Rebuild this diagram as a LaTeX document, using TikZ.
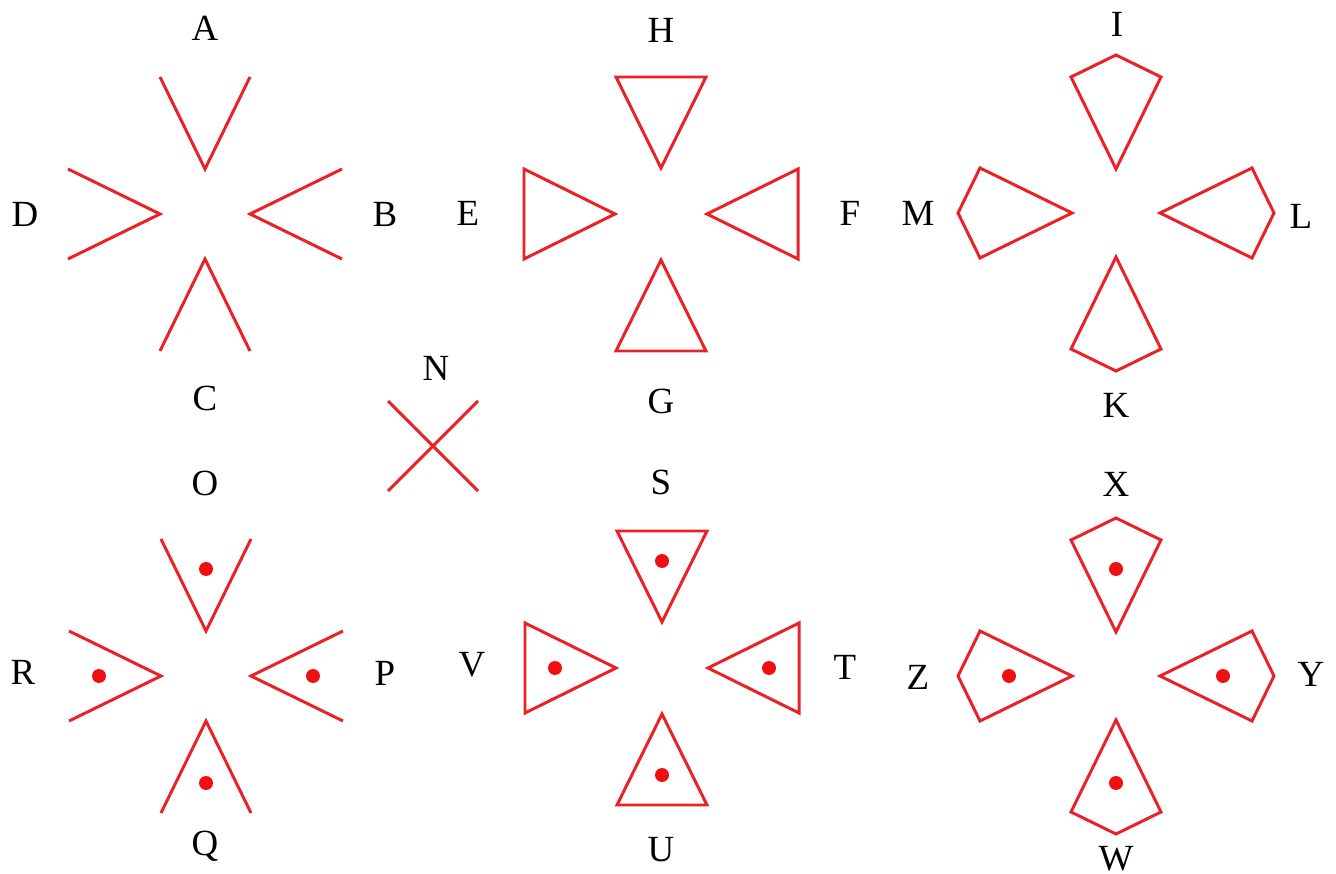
\documentclass[tikz,border=0pt]{standalone}
\usepackage{fontspec}
\setmainfont{Liberation Serif}
\usepackage{tikz}
\usetikzlibrary{positioning}
\definecolor{armred}{RGB}{232,34,38}
\definecolor{spotred}{RGB}{240,16,20}

\begin{document}
\begin{tikzpicture}[x=0.02cm, y=-0.02cm,
  arm/.style={draw=armred, line width=1.7pt, line join=miter},
  spot/.style={fill=spotred},
  lbl/.style={inner sep=0pt, font=\fontsize{21}{25}\selectfont}
]
\useasboundingbox (0,0) rectangle (1336,874);

% open V arms, plain and dotted
\foreach \cx/\cy/\wdot in {205/214/0, 206/676/1}
  \foreach \ang in {0,-90,180,90} {
    \begin{scope}[shift={(\cx,\cy)}, rotate=\ang]
      \draw[arm] (-45,-137) -- (0,-45) -- (45,-137);
      \ifnum\wdot=1 \fill[spot] (0,-107) circle[radius=0.14cm];\fi
    \end{scope}
  }

% triangles
\foreach \cx/\cy/\wdot in {661/214/0, 662/668/1}
  \foreach \ang in {0,-90,180,90} {
    \begin{scope}[shift={(\cx,\cy)}, rotate=\ang]
      \draw[arm] (-45,-137) -- (0,-46) -- (45,-137) -- cycle;
      \ifnum\wdot=1 \fill[spot] (0,-107) circle[radius=0.14cm];\fi
    \end{scope}
  }

% pentagons
\foreach \cx/\cy/\wdot in {1116/213/0, 1116/676/1}
  \foreach \ang in {0,-90,180,90} {
    \begin{scope}[shift={(\cx,\cy)}, rotate=\ang]
      \draw[arm] (0,-158) -- (45,-136) -- (0,-44) -- (-45,-136) -- cycle;
      \ifnum\wdot=1 \fill[spot] (0,-107) circle[radius=0.14cm];\fi
    \end{scope}
  }

% cross
\draw[arm] (388,401) -- (478,491);
\draw[arm] (478,401) -- (388,491);

% labels
\node[lbl] (A) at (205,28) {A};
\node[lbl] (B) at (385,214) {B};
\node[lbl] (C) at (205,398) {C};
\node[lbl] (D) at (25,214) {D};
\node[lbl] (E) at (468,213) {E};
\node[lbl] (F) at (850,213) {F};
\node[lbl] (G) at (661,401) {G};
\node[lbl] (H) at (661,30) {H};
\node[lbl] (I) at (1117,24) {I};
\node[lbl] (K) at (1116,405) {K};
\node[lbl] (L) at (1301,216) {L};
\node[lbl] (M) at (918,213) {M};
\node[lbl] (N) at (436,368) {N};
\node[lbl] (O) at (205,483) {O};
\node[lbl] (P) at (385,673) {P};
\node[lbl] (Q) at (205,846) {Q};
\node[lbl] (R) at (23,672) {R};
\node[lbl] (S) at (661,482) {S};
\node[lbl] (T) at (845,667) {T};
\node[lbl] (U) at (661,850) {U};
\node[lbl] (V) at (472,665) {V};
\node[lbl] (W) at (1116,859) {W};
\node[lbl] (X) at (1116,484) {X};
\node[lbl] (Y) at (1311,674) {Y};
\node[lbl] (Z) at (918,677) {Z};
\end{tikzpicture}
\end{document}
